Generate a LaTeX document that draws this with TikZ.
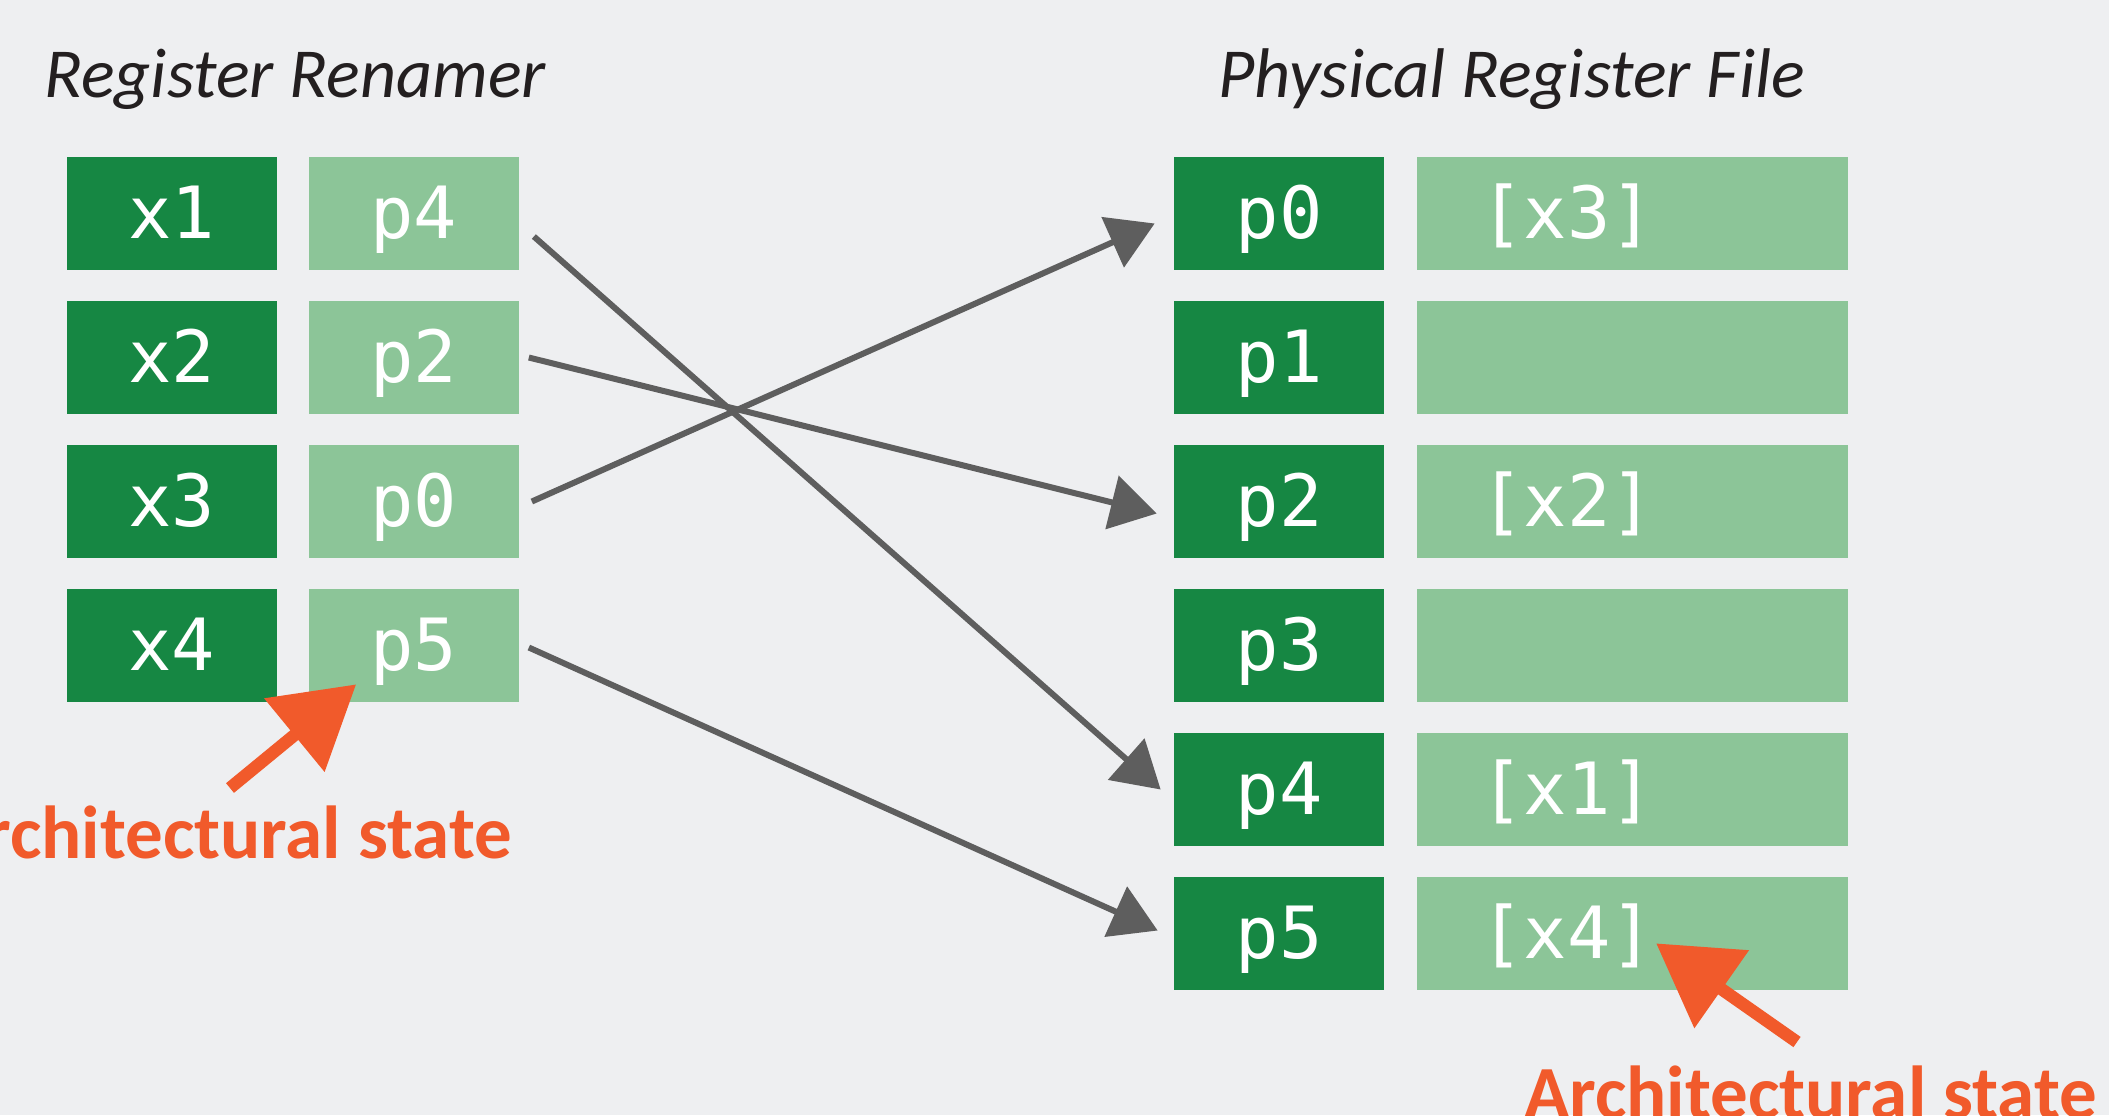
\documentclass[tikz,border=0pt]{standalone}
\usepackage{fontspec}
\setmainfont{Carlito}
\newfontfamily\regfont{DejaVu Sans Mono}
\usetikzlibrary{arrows.meta,calc}
\definecolor{bgGray}{HTML}{EEEFF1}
\definecolor{darkGreen}{HTML}{168743}
\definecolor{lightGreen}{HTML}{8CC598}
\definecolor{arrowGray}{HTML}{5E5E5E}
\definecolor{stateOrange}{HTML}{F15A2B}
\definecolor{titleBlack}{HTML}{231F20}

\begin{document}
\begin{tikzpicture}[x=0.2mm,y=-0.2mm,>={Triangle[length=9.2mm,width=10.8mm]}]
        \tikzstyle{regbox}=[inner sep=0pt,minimum height=22.6mm,text=white,text height=9.8mm,text depth=0mm,font=\regfont\fontsize{41}{41}\selectfont]
        \tikzstyle{archreg}=[regbox,fill=darkGreen,minimum width=42mm]
        \tikzstyle{physreg}=[regbox,fill=lightGreen,minimum width=42mm]
        \tikzstyle{valbox}=[regbox,fill=lightGreen,inner xsep=12.8mm,text width=60.6mm,align=left]
        \tikzstyle{title}=[anchor=base west,text=titleBlack,font=\itshape\fontsize{40}{40}\selectfont]
        \tikzstyle{state}=[text=stateOrange,font=\bfseries\fontsize{42.7}{42.7}\selectfont]
        \tikzstyle{edge}=[draw=arrowGray,fill=arrowGray,line width=1.2mm,->]
        \tikzstyle{statearrow}=[draw=stateOrange,line width=2.5mm,-{Triangle[length=16mm,width=18.4mm]}]

        \useasboundingbox (0,0) rectangle (2109,1115);
        \fill[bgGray] (0,0) rectangle (2109,1115);

        \node [title] (rentitle) at (38,97) {Register Renamer};
        \node [title] (prftitle) at (1212,97) {Physical Register File};

        % renamer table
        \node [archreg] (x1) at (172,213.5) {x1};
        \node [archreg] (x2) at (172,357.5) {x2};
        \node [archreg] (x3) at (172,501.5) {x3};
        \node [archreg] (x4) at (172,645.5) {x4};
        \node [physreg] (rp4) at (413.5,213.5) {p4};
        \node [physreg] (rp2) at (413.5,357.5) {p2};
        \node [physreg] (rp0) at (413.5,501.5) {p0};
        \node [physreg] (rp5) at (413.5,645.5) {p5};

        % physical register file
        \node [archreg] (pp0) at (1279,213.5) {p0};
        \node [archreg] (pp1) at (1279,357.5) {p1};
        \node [archreg] (pp2) at (1279,501.5) {p2};
        \node [archreg] (pp3) at (1279,645.5) {p3};
        \node [archreg] (pp4) at (1279,789.5) {p4};
        \node [archreg] (pp5) at (1279,933.5) {p5};
        \node [valbox] (v0) at (1632,213.5) {[x3]};
        \node [valbox] (v1) at (1632,357.5) {};
        \node [valbox] (v2) at (1632,501.5) {[x2]};
        \node [valbox] (v3) at (1632,645.5) {};
        \node [valbox] (v4) at (1632,789.5) {[x1]};
        \node [valbox] (v5) at (1632,933.5) {[x4]};

        \draw[edge] ($(rp4.east)+(15,23)$) -- ($(pp4.west)+(-13,0)$);
        \draw[edge] ($(rp2.east)+(10,0)$) -- ($(pp2.west)+(-17,12)$);
        \draw[edge] ($(rp0.east)+(13,0)$) -- ($(pp0.west)+(-19,10)$);
        \draw[edge] ($(rp5.east)+(10,2)$) -- ($(pp5.west)+(-16,-3)$);

        % architectural state
        \node [state,anchor=base east] (stateL) at (518,858) {Architectural state};
        \node [state,anchor=base west] (stateR) at (1518,1118) {Architectural state};
        \coordinate (tailL) at (230,788);
        \coordinate (tailR) at (1797,1042);
        \draw[statearrow] (tailL) -- ($(rp5.south west)+(48,-18)$);
        \draw[statearrow] (tailR) -- ($(v5.south west)+(240,-47)$);
\end{tikzpicture}
\end{document}
